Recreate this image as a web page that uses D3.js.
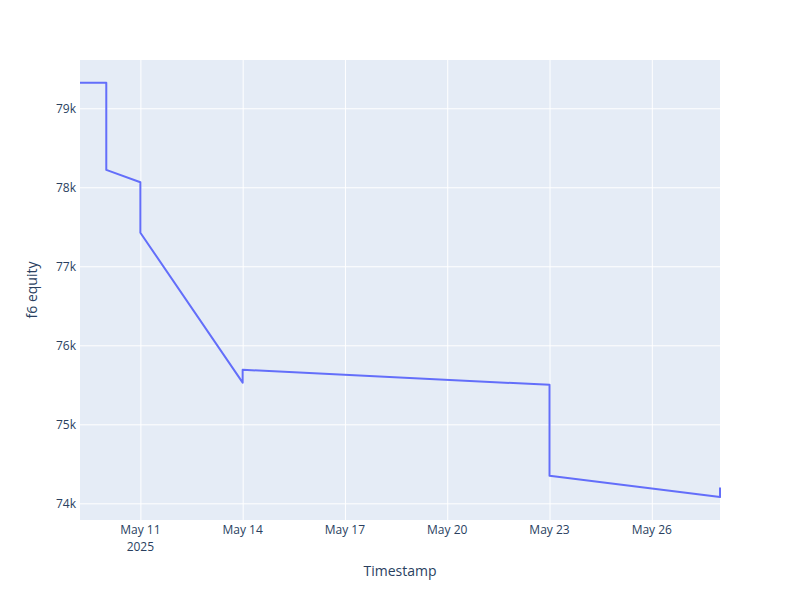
<!DOCTYPE html>
<html>
<head>
<meta charset="utf-8">
<script src="https://cdn.jsdelivr.net/npm/d3@7"></script>
<style>
body{margin:0;background:#fff;}
svg{display:block;font-family:"Open Sans",sans-serif;}
</style>
</head>
<body>
<svg id="chart" width="800" height="600"></svg>
<script>
const timestamps = [
  "2025-05-09T05:30:00","2025-05-10T00:00:00","2025-05-10T00:00:00",
  "2025-05-11T00:00:00","2025-05-11T00:00:00","2025-05-14T00:00:00",
  "2025-05-14T00:00:00","2025-05-23T00:00:00","2025-05-23T00:00:00",
  "2025-05-28T00:00:00","2025-05-28T00:00:00"
];
const equity = [79324,79324,78220,78063,77425,75527,75690,75500,74350,74080,74200];
const yTicks = [74000,75000,76000,77000,78000,79000];
const xTickDates = ["2025-05-11","2025-05-14","2025-05-17","2025-05-20","2025-05-23","2025-05-26"];

const parse = d3.timeParse("%Y-%m-%dT%H:%M:%S");
const parseDay = d3.timeParse("%Y-%m-%d");
const data = timestamps.map((t,i)=>({t:parse(t), v:equity[i]}));

const W=800,H=600,m={l:80,r:80,t:60,b:80};
const svg=d3.select("#chart");
const x=d3.scaleTime().domain(d3.extent(data,d=>d.t)).range([m.l,W-m.r]);
const y=d3.scaleLinear().domain([73789,79611]).range([H-m.b,m.t]);

svg.append("rect").attr("x",m.l).attr("y",m.t).attr("width",W-m.l-m.r).attr("height",H-m.t-m.b).attr("fill","#e5ecf6");

const xt=xTickDates.map(parseDay);
const fmt=d3.timeFormat("%b %-d");

svg.append("g").attr("transform",`translate(0,${H-m.b})`)
  .call(d3.axisBottom(x).tickValues(xt).tickSize(-(H-m.t-m.b)).tickFormat(""))
  .call(g=>{g.select(".domain").remove();g.selectAll("line").attr("stroke","#fff").attr("stroke-width",1);});
svg.append("g").attr("transform",`translate(${m.l},0)`)
  .call(d3.axisLeft(y).tickValues(yTicks).tickSize(-(W-m.l-m.r)).tickFormat(d=>d/1000+"k").tickPadding(4))
  .call(g=>{g.select(".domain").remove();g.selectAll("line").attr("stroke","#fff").attr("stroke-width",1);
    g.selectAll("text").attr("fill","#2a3f5f").style("font-size","12px").style("font-family","'Open Sans',sans-serif");});

const xl=svg.append("g");
xt.forEach((d,i)=>{
  xl.append("text").attr("x",x(d)).attr("y",H-m.b+14).attr("text-anchor","middle")
    .attr("fill","#2a3f5f").style("font-size","12px").text(fmt(d));
  if(i===0) xl.append("text").attr("x",x(d)).attr("y",H-m.b+31).attr("text-anchor","middle")
    .attr("fill","#2a3f5f").style("font-size","12px").text("2025");
});

svg.append("path").datum(data)
  .attr("d",d3.line().x(d=>x(d.t)).y(d=>y(d.v)))
  .attr("fill","none").attr("stroke","#636efa").attr("stroke-width",2).attr("stroke-linejoin","round");

svg.append("text").attr("x",(m.l+W-m.r)/2).attr("y",576).attr("text-anchor","middle")
  .attr("fill","#2a3f5f").style("font-size","14px").text("Timestamp");
svg.append("text").attr("transform",`translate(37,${(m.t+H-m.b)/2}) rotate(-90)`).attr("text-anchor","middle")
  .attr("fill","#2a3f5f").style("font-size","14px").text("f6 equity");
</script>
</body>
</html>
